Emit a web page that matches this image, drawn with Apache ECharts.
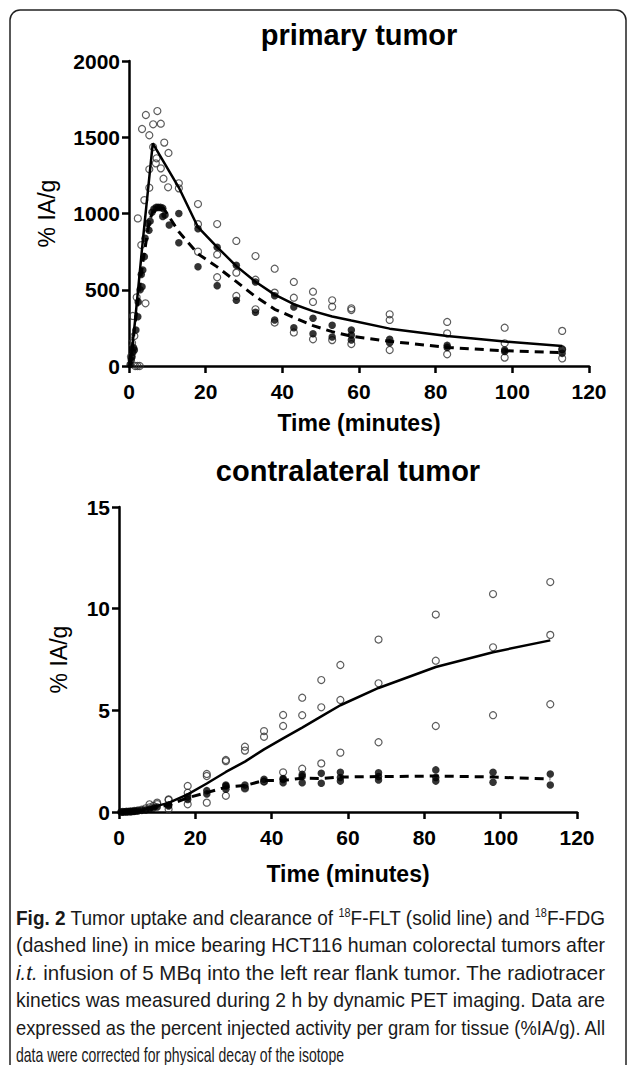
<!DOCTYPE html>
<html>
<head>
<meta charset="utf-8">
<script src="https://cdn.jsdelivr.net/npm/echarts@6/dist/echarts.min.js"></script>
<style>
    html, body { margin: 0; padding: 0; background: #fff; overflow: hidden; }
    #main { position: absolute; left: 0; top: 0; width: 627px; height: 1065px; }
    #caption {
        position: absolute; left: 16px; top: 904px; width: 700px;
        font-family: "Liberation Sans", Arial, sans-serif;
        font-size: 21px; line-height: 27.4px; color: #1a1a1a;
    }
    #caption div { white-space: nowrap; }
    #caption span.ln { display: inline-block; transform-origin: 0 0; }
    #caption sup { font-size: 12px; vertical-align: 8px; line-height: 0; }
</style>
</head>
<body>
<div id="main"></div>
<div id="caption">
    <div><span class="ln" data-w="589"><b>Fig. 2</b> Tumor uptake and clearance of <sup>18</sup>F-FLT (solid line) and <sup>18</sup>F-FDG</span></div>
    <div><span class="ln" data-w="589">(dashed line) in mice bearing HCT116 human colorectal tumors after</span></div>
    <div><span class="ln" data-w="589"><i>i.t.</i> infusion of 5 MBq into the left rear flank tumor. The radiotracer</span></div>
    <div><span class="ln" data-w="589">kinetics was measured during 2 h by dynamic PET imaging. Data are</span></div>
    <div><span class="ln" data-w="589">expressed as the percent injected activity per gram for tissue (%IA/g). All</span></div>
    <div><span class="ln" data-w="328">data were corrected for physical decay of the isotope</span></div>
</div>
<script>
// primary tumor, [time (min), %IA/g]
var primFltPts = [
    [0.5, 60], [0.8, 150], [1.0, 328], [1.4, 197], [1.6, 0], [2.2, 0], [2.8, 0],
    [2.0, 450], [2.3, 968], [3.2, 793], [4.0, 1088], [4.3, 411], [3.4, 1554], [4.4, 1646],
    [5.3, 1513], [6.3, 1585], [7.4, 1672], [8.3, 1589], [9.2, 1465], [10.3, 1397],
    [6.3, 1436], [7.2, 1362], [7.0, 1329], [8.3, 1296], [5.3, 1290], [9.0, 1228],
    [10.2, 1172], [5.3, 1169],
    [13, 1198], [13, 1165], [18, 1062], [18, 750], [18, 930],
    [23, 931], [23, 731], [23, 582], [28, 820], [28, 612], [28, 459],
    [33, 721], [33, 566], [33, 372], [38, 638], [38, 481], [38, 285],
    [43, 551], [43, 448], [43, 220], [48, 487], [48, 420], [48, 175],
    [53, 431], [53, 389], [53, 170], [58, 378], [58, 367], [58, 144],
    [68, 339], [68, 302], [68, 105], [83, 289], [83, 214], [83, 77],
    [98, 251], [98, 149], [98, 55], [113, 230], [113, 110], [113, 50]
];
var primFdgPts = [
    [0.3, 10], [0.6, 40], [0.8, 60], [1.0, 90], [1.2, 120], [1.4, 105], [1.8, 236],
    [2.3, 323], [2.4, 420], [2.9, 500], [3.4, 520], [3.2, 600], [3.6, 630], [4.0, 717],
    [4.2, 837], [4.9, 935], [5.2, 890], [5.5, 950], [6.0, 1008], [6.5, 1030], [7.1, 1040],
    [7.6, 1040], [8.2, 1040], [8.8, 1035], [9.4, 990], [8.8, 980], [10.5, 925],
    [13, 1000], [13, 808], [18, 900], [18, 651], [23, 778], [23, 527],
    [28, 660], [28, 431], [33, 551], [33, 352], [38, 461], [38, 302],
    [43, 387], [43, 251], [48, 313], [48, 212], [53, 267], [53, 190],
    [58, 236], [58, 203], [58, 170], [68, 175], [68, 153], [83, 135], [83, 122],
    [98, 105], [98, 95], [113, 109], [113, 83]
];
var primFltMean = [
    [0.3, 0], [1.6, 300], [3.6, 820], [6.2, 1460], [13, 1170], [18, 910], [23, 780],
    [28, 655], [33, 552], [38, 468], [43, 405], [48, 360], [53, 325], [58, 298],
    [68, 245], [83, 197], [98, 160], [113, 131]
];
var primFdgMean = [
    [0.3, 0], [1.6, 280], [3.6, 680], [5.3, 950], [6.2, 1010], [9, 1035], [13, 880],
    [18, 735], [23, 650], [28, 553], [33, 455], [38, 372], [43, 318], [48, 265],
    [53, 225], [58, 195], [68, 162], [83, 122], [98, 100], [113, 87]
];

// contralateral tumor, [time (min), %IA/g]
var contraFltPts = [
    [1, 0.01], [2, 0.02], [3, 0.03], [4, 0.05], [5, 0.08], [6, 0.12], [7, 0.18],
    [8, 0.23], [8, 0.38], [9, 0.3], [10, 0.39], [10, 0.46],
    [13, 0.59], [13, 0.62], [13, 0.13], [18, 1.28], [18, 0.95], [18, 0.38],
    [23, 1.87], [23, 1.77], [23, 0.46], [28, 2.56], [28, 2.5], [28, 0.8],
    [33, 3.21], [33, 3.02], [33, 1.16], [38, 3.98], [38, 3.70], [38, 1.5],
    [43, 4.77], [43, 4.23], [43, 1.95], [48, 5.62], [48, 4.76], [48, 2.13],
    [53, 6.49], [53, 5.15], [53, 2.39], [58, 7.23], [58, 5.51], [58, 2.92],
    [68, 8.48], [68, 6.33], [68, 3.43], [83, 9.71], [83, 7.44], [83, 4.23],
    [98, 10.72], [98, 8.10], [98, 4.76], [113, 11.31], [113, 8.71], [113, 5.30]
];
var contraFdgPts = [
    [0.5, 0], [1, 0], [1.5, 0.01], [2, 0.01], [2.5, 0.02], [3, 0.02], [3.5, 0.03],
    [4, 0.04], [4.5, 0.05], [5, 0.06], [6, 0.08], [7, 0.1], [8, 0.15], [9, 0.2], [10, 0.25],
    [13, 0.3], [13, 0.35], [18, 0.75], [18, 0.62], [23, 1.05], [23, 0.89],
    [28, 1.28], [28, 1.12], [28, 1.33], [33, 1.33], [33, 1.18], [38, 1.61], [38, 1.5],
    [43, 1.6], [43, 1.44], [43, 1.65], [48, 1.74], [48, 1.44], [48, 1.85],
    [53, 1.90], [53, 1.41], [58, 1.95], [58, 1.52], [58, 1.7],
    [68, 1.93], [68, 1.74], [68, 1.57], [83, 2.07], [83, 1.52], [83, 1.7],
    [98, 1.95], [98, 1.46], [113, 1.87], [113, 1.33]
];
var contraFltMean = [
    [0, 0], [5, 0.05], [8, 0.2], [10, 0.3], [13, 0.45], [18, 0.87], [23, 1.4],
    [28, 1.97], [33, 2.48], [38, 3.08], [43, 3.62], [48, 4.15], [53, 4.7], [58, 5.25],
    [68, 6.1], [83, 7.13], [98, 7.86], [113, 8.44]
];
var contraFdgMean = [
    [0, 0], [5, 0.05], [8, 0.15], [13, 0.35], [18, 0.7], [23, 0.95], [28, 1.22],
    [33, 1.3], [38, 1.55], [43, 1.55], [48, 1.66], [53, 1.65], [58, 1.72],
    [68, 1.74], [83, 1.77], [98, 1.72], [113, 1.62]
];

var FONT = '"Liberation Sans", Arial, sans-serif';

// squeeze each caption line to the width it takes in the figure
var lines = document.querySelectorAll('#caption span.ln');
for (var i = 0; i < lines.length; i++) {
    var w = lines[i].getBoundingClientRect().width;
    lines[i].style.transform = 'scaleX(' + (Number(lines[i].getAttribute('data-w')) / w) + ')';
}

function makeXAxis(gi, gap) {
    return {
        gridIndex: gi, type: 'value', min: 0, max: 120, interval: 20,
        name: 'Time (minutes)', nameLocation: 'middle', nameGap: gap,
        nameTextStyle: { fontFamily: FONT, fontSize: 23, fontWeight: 'bold', color: '#000' },
        axisLine: { show: true, lineStyle: { color: '#000', width: 2.5 } },
        axisTick: { show: true, length: 7, lineStyle: { color: '#000', width: 2.5 } },
        axisLabel: { fontFamily: FONT, fontSize: 21, fontWeight: 'bold', color: '#000', margin: 15 },
        splitLine: { show: false }
    };
}

function makeYAxis(gi, max, step, gap) {
    return {
        gridIndex: gi, type: 'value', min: 0, max: max, interval: step,
        name: '% IA/g', nameLocation: 'middle', nameGap: gap,
        nameTextStyle: { fontFamily: FONT, fontSize: 23, color: '#000' },
        axisLine: { show: true, lineStyle: { color: '#000', width: 2.5 } },
        axisTick: { show: true, length: 7, lineStyle: { color: '#000', width: 2.5 } },
        axisLabel: {
            fontFamily: FONT, fontSize: 21, fontWeight: 'bold', color: '#000', margin: 9,
            formatter: function (v) { return String(v); }
        },
        splitLine: { show: false }
    };
}

function openPts(gi, data) {
    return {
        type: 'scatter', xAxisIndex: gi, yAxisIndex: gi, data: data,
        symbol: 'circle', symbolSize: 7, z: 2,
        itemStyle: { color: 'rgba(255,255,255,0)', borderColor: '#333', borderWidth: 1.2 }
    };
}

function filledPts(gi, data) {
    return {
        type: 'scatter', xAxisIndex: gi, yAxisIndex: gi, data: data,
        symbol: 'circle', symbolSize: 7.5, z: 3,
        itemStyle: { color: '#000' }
    };
}

function meanLine(gi, data, dashed) {
    return {
        type: 'line', xAxisIndex: gi, yAxisIndex: gi, data: data,
        showSymbol: false, symbol: 'none', z: 4,
        lineStyle: { color: '#000', width: dashed ? 3 : 2.5, type: dashed ? [9, 6] : 'solid' }
    };
}

var chart = echarts.init(document.getElementById('main'), null, { renderer: 'svg' });
chart.setOption({
    animation: false,
    backgroundColor: '#fff',
    grid: [
        { left: 129, top: 61, width: 460, height: 305 },
        { left: 119, top: 507, width: 458, height: 305 }
    ],
    xAxis: [makeXAxis(0, 45), makeXAxis(1, 50)],
    yAxis: [makeYAxis(0, 2000, 500, 71), makeYAxis(1, 15, 5, 49)],
    graphic: [
        {
            type: 'rect', silent: true,
            shape: { x: 10, y: 10, width: 616, height: 1100, r: 10 },
            style: { fill: 'none', stroke: '#222', lineWidth: 1.5 }
        },
        {
            type: 'text', x: 359, y: 49,
            style: { text: 'primary tumor', font: 'bold 29px ' + FONT, fill: '#000',
                     textAlign: 'center', textVerticalAlign: 'bottom' }
        },
        {
            type: 'text', x: 348, y: 485,
            style: { text: 'contralateral tumor', font: 'bold 29px ' + FONT, fill: '#000',
                     textAlign: 'center', textVerticalAlign: 'bottom' }
        }
    ],
    series: [
        openPts(0, primFltPts),
        filledPts(0, primFdgPts),
        meanLine(0, primFltMean, false),
        meanLine(0, primFdgMean, true),
        openPts(1, contraFltPts),
        filledPts(1, contraFdgPts),
        meanLine(1, contraFltMean, false),
        meanLine(1, contraFdgMean, true)
    ]
});
</script>
</body>
</html>
